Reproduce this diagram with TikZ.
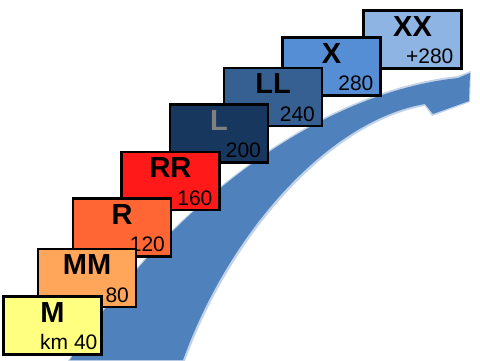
\documentclass[tikz,border=0pt]{standalone}
\usepackage{fontspec}
\setmainfont{Liberation Sans}
\usetikzlibrary{calc}
\definecolor{arrowblue}{RGB}{79,129,189}
\definecolor{cM}{RGB}{255,255,128}
\definecolor{cMM}{RGB}{255,166,90}
\definecolor{cR}{RGB}{255,102,51}
\definecolor{cRR}{RGB}{255,25,25}
\definecolor{cL}{RGB}{23,55,94}
\definecolor{cLL}{RGB}{54,96,146}
\definecolor{cX}{RGB}{85,142,213}
\definecolor{cXX}{RGB}{142,180,227}
\definecolor{lgray}{RGB}{128,128,128}
\tikzset{
  stepbox/.style={draw=black, line width=2.2pt, rectangle, minimum width=98pt, minimum height=58pt, inner sep=0pt},
  titletext/.style={font=\fontsize{29}{29}\selectfont\bfseries, inner sep=0pt, anchor=center},
  numtext/.style={font=\fontsize{21}{21}\selectfont, inner sep=0pt, anchor=base east}
}
\begin{document}
\begin{tikzpicture}[x=1pt,y=-1pt]
\useasboundingbox (0,0) rectangle (480,360);
% arrow soft edge
\fill[arrowblue, opacity=0.35] (68,361) .. controls (148,230) and (300,93) .. (458,76) -- (471,71) -- (470,102) -- (432,116) -- (425,106) .. controls (332,122) and (232,232) .. (185,361) -- cycle;
\fill[arrowblue] (70,360) .. controls (150,230) and (300,95) .. (458,78) -- (470,73) -- (469,101) -- (433,114) -- (425,104) .. controls (330,120) and (230,230) .. (183,360) -- cycle;
% boxes, top-right first
\node[stepbox, fill=cXX] (bXX) at (412.5,39.5) {};
\node[titletext] (tXX) at ($(bXX.north)+(0,17)$) {XX};
\node[numtext] (nXX) at ($(bXX.south east)+(-9,-6)$) {+280};
\node[stepbox, fill=cX] (bX) at (331.5,66.5) {};
\node[titletext] (tX) at ($(bX.north)+(0,17)$) {X};
\node[numtext] (nX) at ($(bX.south east)+(-8,-6)$) {280};
\node[stepbox, fill=cLL] (bLL) at (273,97) {};
\node[titletext] (tLL) at ($(bLL.north)+(0,17)$) {LL};
\node[numtext] (nLL) at ($(bLL.south east)+(-8,-6)$) {240};
\node[stepbox, fill=cL] (bL) at (219,133.5) {};
\node[titletext, text=lgray] (tL) at ($(bL.north)+(0,17)$) {L};
\node[numtext] (nL) at ($(bL.south east)+(-8,-6)$) {200};
\node[stepbox, fill=cRR] (bRR) at (170.5,181) {};
\node[titletext] (tRR) at ($(bRR.north)+(0,17)$) {RR};
\node[numtext] (nRR) at ($(bRR.south east)+(-8,-6)$) {160};
\node[stepbox, fill=cR] (bR) at (122,227.5) {};
\node[titletext] (tR) at ($(bR.north)+(0,17)$) {R};
\node[numtext] (nR) at ($(bR.south east)+(-7,-6)$) {120};
\node[stepbox, fill=cMM] (bMM) at (87,278) {};
\node[titletext] (tMM) at ($(bMM.north)+(0,17)$) {MM};
\node[numtext] (nMM) at ($(bMM.south east)+(-8,-6)$) {80};
\node[stepbox, fill=cM] (bM) at (52.5,325.5) {};
\node[titletext] (tM) at ($(bM.north)+(0,17)$) {M};
\node[numtext] (nM) at ($(bM.south east)+(-5,-6)$) {km 40};
\end{tikzpicture}
\end{document}
